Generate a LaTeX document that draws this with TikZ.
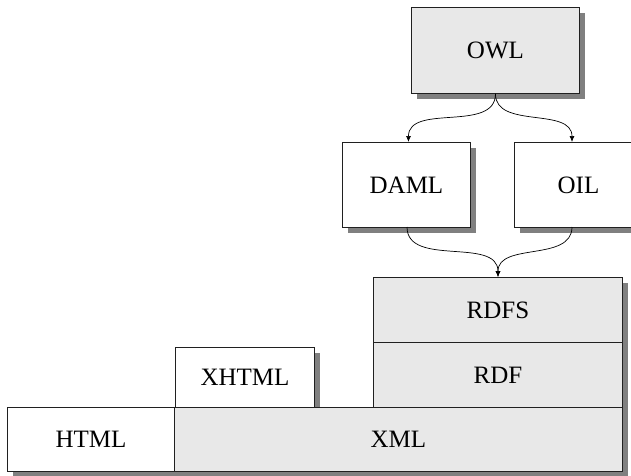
\documentclass[tikz,border=0pt]{standalone}
\usepackage{fontspec}
\setmainfont{Liberation Serif}
\usetikzlibrary{shadows,arrows.meta}
\definecolor{boxgray}{HTML}{E8E8E8}
\definecolor{shgray}{HTML}{808080}
\definecolor{edge}{HTML}{202020}
\tikzset{
  layer/.style={draw=edge, line width=0.9pt, anchor=north west, inner sep=0pt,
    font=\fontsize{25}{30}\selectfont,
    general shadow={shadow xshift=6pt, shadow yshift=-6pt, fill=shgray}},
  light/.style={layer, fill=white},
  dark/.style={layer, fill=boxgray},
  link/.style={draw=black, line width=0.7pt, -{Latex[length=6pt,width=5pt]}}
}
\begin{document}
\begin{tikzpicture}[x=1pt,y=-1pt]
\useasboundingbox (0,0) rectangle (631,475);
\clip (0,0) rectangle (631,475);
\node[dark, minimum width=168pt, minimum height=86pt] (owl) at (411,7) {OWL};
\node[light, minimum width=128pt, minimum height=85pt] (daml) at (342,142) {DAML};
\node[light, minimum width=128pt, minimum height=85pt] (oil) at (514,142) {OIL};
\node[light, minimum width=139pt, minimum height=60pt] (xhtml) at (175,347) {XHTML};
\node[dark, minimum width=249pt, minimum height=65pt] (rdfs) at (373,277) {RDFS};
\node[dark, minimum width=249pt, minimum height=65pt] (rdf) at (373,342) {RDF};
\node[light, minimum width=167pt, minimum height=64pt] (html) at (7,407) {HTML};
\node[dark, minimum width=448pt, minimum height=64pt] (xml) at (174,407) {XML};
\coordinate (owlb) at (owl.south);
\coordinate (damlt) at ([xshift=2pt]daml.north);
\coordinate (oilt) at (572,142);
\coordinate (damlb) at (407,227);
\coordinate (oilb) at (572,227);
\coordinate (rdfst) at (498,277);
\draw[link] (owlb) to[out=-90,in=90] (damlt);
\draw[link] (owlb) to[out=-90,in=90] (oilt);
\draw[link] (damlb) to[out=-90,in=90] (rdfst);
\draw[link] (oilb) to[out=-90,in=90] (rdfst);
\end{tikzpicture}
\end{document}
